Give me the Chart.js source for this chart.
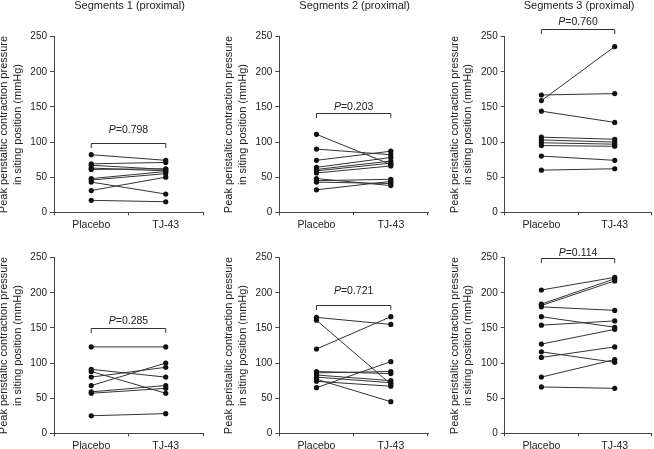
<!DOCTYPE html>
<html><head><meta charset="utf-8">
<script src="https://cdn.jsdelivr.net/npm/chart.js@4/dist/chart.umd.min.js"></script>
<style>
html,body{margin:0;padding:0;background:#fff;width:654px;height:449px;overflow:hidden}
canvas{position:absolute}
</style></head><body>
<canvas id="c0"></canvas><canvas id="c1"></canvas><canvas id="c2"></canvas>
<canvas id="c3"></canvas><canvas id="c4"></canvas><canvas id="c5"></canvas>
<script>
// ---- data ----
const categories = ['Placebo', 'TJ-43'];
const yTicks = [0, 50, 100, 150, 200, 250];
const panelTitles = ['Segments 1 (proximal)', 'Segments 2 (proximal)', 'Segments 3 (proximal)', '', '', ''];
const yTitleLines = ['Peak peristaltic contraction pressure', 'in siting position (mmHg)'];
const pValues = ['0.798', '0.203', '0.760', '0.285', '0.721', '0.114'];

const placebo1 = [82, 69, 67, 63, 61, 48, 46, 43, 31, 17];
const tj1      = [74, 71, 61, 59, 62, 58, 55, 26, 50, 15];
const placebo2 = [111, 90, 74, 64, 61, 59, 56, 48, 45, 43, 32];
const tj2      = [68, 82, 87, 78, 73, 70, 66, 38, 47, 41, 44];
const placebo3 = [167, 159, 144, 107, 103, 99, 95, 80, 60];
const tj3      = [169, 236, 128, 104, 100, 97, 94, 74, 62];
const placebo4 = [123, 91, 88, 80, 68, 59, 57, 25];
const tj4      = [123, 80, 57, 94, 100, 68, 64, 28];
const placebo5 = [165, 161, 120, 88, 86, 83, 80, 77, 74, 65];
const tj5      = [155, 70, 166, 85, 88, 75, 72, 45, 67, 102];
const placebo6 = [204, 184, 182, 180, 166, 154, 127, 116, 108, 80, 66];
const tj6      = [222, 220, 217, 175, 151, 160, 148, 101, 123, 105, 64];

const placeboSets = [placebo1, placebo2, placebo3, placebo4, placebo5, placebo6];
const tjSets = [tj1, tj2, tj3, tj4, tj5, tj6];
// bracket level and P-label baseline, in axis units
const bracketLevels = [99, 141, 261.5, 150, 182.5, 249];
const pLabelLevels = [113.5, 145.5, 266.5, 155.5, 199, 253];

// ---- layout ----
const rows = [{T: 0, H: 234, top: 36.7, bot: 212.3}, {T: 225, H: 224, top: 257.7, bot: 433.3}];
const cols = [{L: 0, W: 218, al: 54, ar: 203}, {L: 218, W: 216, al: 279.3, ar: 428}, {L: 434, W: 220, al: 504.7, ar: 654}];
const FONT = "'Liberation Sans', Arial, Helvetica, sans-serif";
const TXT = '#222';
const XH = 21;

function makePanel(idx) {
  const r = rows[Math.floor(idx / 3)], c = cols[idx % 3];
  const cv = document.getElementById('c' + idx);
  cv.width = c.W; cv.height = r.H;
  cv.style.left = c.L + 'px'; cv.style.top = r.T + 'px';
  cv.style.width = c.W + 'px'; cv.style.height = r.H + 'px';
  const pl = placeboSets[idx], tj = tjSets[idx];
  const datasets = pl.map((v, i) => ({
    data: [v, tj[i]],
    borderColor: '#333', borderWidth: 1,
    pointRadius: 2.6, pointBackgroundColor: '#111', pointBorderWidth: 0,
    pointHoverRadius: 2.6
  }));
  const deco = {
    id: 'deco' + idx,
    afterDraw(chart) {
      const ctx = chart.ctx, ca = chart.chartArea;
      const xs = chart.scales.x, ys = chart.scales.y;
      ctx.save();
      ctx.fillStyle = TXT;
      // panel title
      if (panelTitles[idx]) {
        ctx.font = '11px ' + FONT;
        ctx.textAlign = 'center'; ctx.textBaseline = 'alphabetic';
        ctx.fillText(panelTitles[idx], (ca.left + ca.right) / 2 + 1, 9);
      }
      // y-axis title (two lines)
      ctx.save();
      ctx.translate(0, (ca.top + ca.bottom) / 2);
      ctx.rotate(-Math.PI / 2);
      ctx.font = '11px ' + FONT;
      ctx.textAlign = 'center'; ctx.textBaseline = 'middle';
      ctx.fillText(yTitleLines[0], 0, ca.left - 50);
      ctx.fillText(yTitleLines[1], 0, ca.left - 36.5);
      ctx.restore();
      // bracket
      const x1 = xs.getPixelForValue(0), x2 = xs.getPixelForValue(1);
      const by = Math.round(ys.getPixelForValue(bracketLevels[idx])) + 0.5;
      ctx.strokeStyle = '#333'; ctx.lineWidth = 1;
      ctx.beginPath();
      ctx.moveTo(x1, by + 4.5); ctx.lineTo(x1, by); ctx.lineTo(x2, by); ctx.lineTo(x2, by + 4.5);
      ctx.stroke();
      // P label
      const py = ys.getPixelForValue(pLabelLevels[idx]);
      const rest = '=' + pValues[idx];
      ctx.font = 'italic 10.5px ' + FONT;
      const wP = ctx.measureText('P').width;
      ctx.font = '10.5px ' + FONT;
      const wR = ctx.measureText(rest).width;
      const sx = (x1 + x2) / 2 - (wP + wR) / 2;
      ctx.textAlign = 'left'; ctx.textBaseline = 'alphabetic';
      ctx.font = 'italic 10.5px ' + FONT;
      ctx.fillText('P', sx, py);
      ctx.font = '10.5px ' + FONT;
      ctx.fillText(rest, sx + wP, py);
      ctx.restore();
    }
  };
  new Chart(cv, {
    type: 'line',
    data: {labels: categories, datasets},
    options: {
      responsive: false, animation: false, devicePixelRatio: 1,
      layout: {padding: {left: 0, top: r.top - r.T, right: c.L + c.W - c.ar, bottom: r.T + r.H - r.bot - XH}},
      plugins: {legend: {display: false}, tooltip: {enabled: false}, title: {display: false}},
      events: [],
      scales: {
        x: {
          offset: true,
          grid: {offset: true, drawOnChartArea: false, drawTicks: true, tickLength: 3, color: '#444'},
          border: {display: true, color: '#444', width: 1},
          ticks: {color: TXT, font: {family: FONT, size: 10.5}, padding: 4, maxRotation: 0},
          afterFit(s) { s.height = XH; }
        },
        y: {
          min: 0, max: 250,
          afterBuildTicks(s) { s.ticks = yTicks.map(v => ({value: v})); },
          grid: {drawOnChartArea: false, drawTicks: true, tickLength: 4, color: '#444'},
          border: {display: true, color: '#444', width: 1},
          ticks: {color: TXT, font: {family: FONT, size: 10}, padding: 3},
          afterFit(s) { s.width = c.al - c.L; }
        }
      }
    },
    plugins: [deco]
  });
}
for (let i = 0; i < 6; i++) makePanel(i);
</script>
</body></html>
